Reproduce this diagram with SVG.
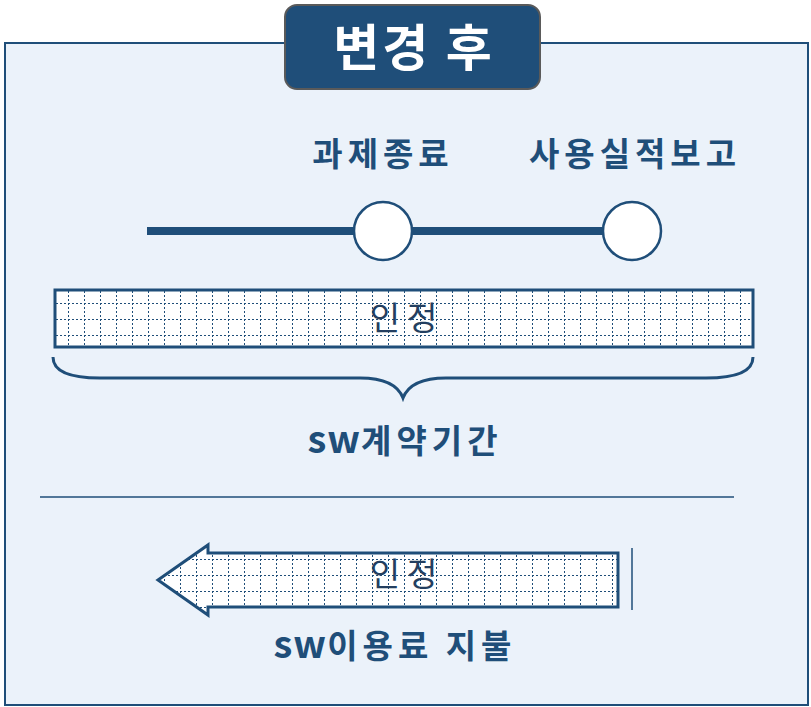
<svg xmlns="http://www.w3.org/2000/svg" width="811" height="707" viewBox="0 0 811 707">
<style>
.lbl{font-family:"Noto Sans CJK KR","Liberation Sans",sans-serif;font-weight:bold;fill:#1F4E79;text-anchor:middle;font-size:33px;letter-spacing:5px}
.sw{font-size:38px;letter-spacing:1px}
.in{font-family:"Noto Sans CJK KR","Liberation Sans",sans-serif;font-size:33px;fill:#243F60;text-anchor:middle;letter-spacing:7px}
.blue{stroke:#1F4E79;fill:none}
</style>
<defs>
<pattern id="grid" patternUnits="userSpaceOnUse" x="4" y="-1" width="16" height="16">
<rect width="16" height="16" fill="#FFFFFF"/>
<line x1="0" y1="0" x2="16" y2="0" stroke="#1F4E79" stroke-width="2" stroke-dasharray="2 2"/>
<line x1="0" y1="0" x2="0" y2="16" stroke="#1F4E79" stroke-width="2" stroke-dasharray="2 2"/>
</pattern>
</defs>
<g id="panel">
<rect x="5" y="43" width="803" height="662" fill="#EBF2FA" stroke="#1F4E79" stroke-width="2"/>
</g>
<g id="title">
<rect x="285" y="5" width="255" height="84" rx="12" fill="#1F4E79" stroke="#5A5A5A" stroke-width="2"/>
<text x="414" y="66" font-family="Noto Sans CJK KR,Liberation Sans,sans-serif" font-size="50" font-weight="bold" fill="#FFFFFF" text-anchor="middle" letter-spacing="3">변경 후</text>
</g>
<g id="connectors">
<line x1="147" y1="231" x2="632" y2="231" stroke="#1F4E79" stroke-width="8"/>
<path class="blue" stroke-width="3" d="M53,357 C53,372 70,378 100,378 L360,378 C385,378 398,385 403,398 C408,385 421,378 446,378 L706,378 C736,378 753,372 753,357"/>
<line x1="40" y1="497" x2="734" y2="497" stroke="#1F4E79" stroke-width="1.5"/>
<line x1="632" y1="548" x2="632" y2="610" stroke="#1F4E79" stroke-width="1.5"/>
</g>
<g id="label-end">
<text class="lbl" x="383" y="166">과제종료</text>
</g>
<g id="label-report">
<text class="lbl" x="635" y="166">사용실적보고</text>
</g>
<g id="milestone-end">
<circle cx="383" cy="231" r="29" fill="#FFFFFF" stroke="#1F4E79" stroke-width="2.5"/>
</g>
<g id="milestone-report">
<circle cx="632" cy="231" r="29" fill="#FFFFFF" stroke="#1F4E79" stroke-width="2.5"/>
</g>
<g id="recognized-bar">
<rect x="55" y="290" width="698" height="57" fill="url(#grid)" stroke="#1F4E79" stroke-width="3"/>
<text class="in" x="407" y="330">인정</text>
</g>
<g id="contract-label">
<text class="lbl" x="405" y="453"><tspan class="sw">sw</tspan><tspan>계약기간</tspan></text>
</g>
<g id="recognized-arrow">
<path d="M158,580 L208,545 L208,553 L618,553 L618,607 L208,607 L208,615 Z" fill="url(#grid)" stroke="#1F4E79" stroke-width="3" stroke-linejoin="miter"/>
<text class="in" x="407" y="586">인정</text>
</g>
<g id="fee-label">
<text class="lbl" x="395" y="658"><tspan class="sw">sw</tspan><tspan>이용료 지불</tspan></text>
</g>
</svg>
